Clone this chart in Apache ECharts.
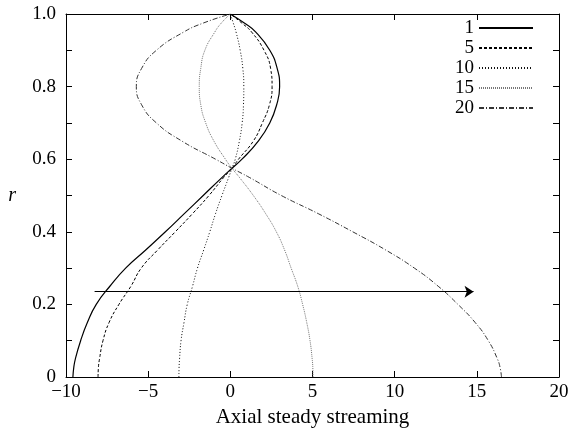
<!DOCTYPE html>
<html>
<head>
<meta charset="utf-8">
<script src="https://cdn.jsdelivr.net/npm/echarts@6/dist/echarts.min.js"></script>
<style>
  html, body { margin: 0; padding: 0; background: #fff; }
  #streaming { width: 569px; height: 434px; }
</style>
</head>
<body>
<div id="streaming"></div>
<script>
// radial positions shared by all curves
const rGrid = [0, 0.025, 0.05, 0.1, 0.15, 0.2, 0.25, 0.3, 0.35, 0.4, 0.45, 0.5, 0.55, 0.575,
  0.6, 0.65, 0.7, 0.75, 0.8, 0.85, 0.9, 0.95, 0.975, 1.0];

// axial steady streaming, one array per curve
const names = ['1', '5', '10', '15', '20'];
const x1 = [-9.58, -9.53, -9.43, -9.11, -8.7, -8.16, -7.33, -6.37, -5.15, -3.95, -2.8, -1.65, -0.5, 0.1,
  0.71, 1.7, 2.4, 2.82, 3.0, 2.85, 2.4, 1.55, 0.85, 0];
const x5 = [-8.05, -8.03, -7.96, -7.75, -7.38, -6.78, -6.05, -5.42, -4.42, -3.35, -2.3, -1.3, -0.4, 0.1,
  0.5, 1.4, 1.95, 2.38, 2.54, 2.45, 2.05, 1.3, 0.7, 0];
const x10 = [-3.13, -3.12, -3.09, -3.0, -2.82, -2.62, -2.3, -2.0, -1.62, -1.25, -0.9, -0.51, -0.1, 0.1,
  0.3, 0.55, 0.72, 0.8, 0.82, 0.76, 0.6, 0.35, 0.18, 0];
const x15 = [5.03, 5.02, 4.98, 4.85, 4.65, 4.4, 4.1, 3.7, 3.3, 2.8, 2.15, 1.4, 0.55, 0.1,
  -0.3, -1.0, -1.5, -1.8, -1.89, -1.8, -1.55, -0.95, -0.55, 0];
const x20 = [16.5, 16.42, 16.25, 15.7, 14.9, 13.85, 12.65, 11.2, 9.45, 7.45, 5.35, 3.1, 1.15, 0.1,
  -0.9, -2.95, -4.5, -5.4, -5.72, -5.4, -4.5, -2.85, -1.65, 0];

// arrow across the plot
const arrowX = [-8.26, 14.8];
const arrowR = 0.235;

const xTicks = { min: -10, max: 20, interval: 5 };
const yTicks = { min: 0, max: 1, interval: 0.2 };

const font = 'Liberation Serif';
const lineStyles = [
  { color: '#000', width: 1.2, type: 'solid' },
  { color: '#000', width: 1, type: [3, 2] },
  { color: '#111', width: 1, type: [1, 2] },
  { color: '#777', width: 1, type: [1, 1] },
  { color: '#333', width: 1, type: [5, 2, 1, 2] }
];
const curves = [x1, x5, x10, x15, x20];

function pairs (xs) {
  return xs.map((x, i) => [x, rGrid[i]]);
}

const series = curves.map((xs, i) => ({
  name: names[i],
  type: 'line',
  data: pairs(xs),
  smooth: 0.5,
  symbol: 'none',
  lineStyle: lineStyles[i],
  itemStyle: { color: lineStyles[i].color }
}));

series.push({
  name: 'arrow',
  type: 'line',
  data: [],
  markLine: {
    silent: true,
    symbol: ['none', 'arrow'],
    symbolSize: 9,
    label: { show: false },
    lineStyle: { color: '#000', width: 1, type: 'solid' },
    data: [[{ coord: [arrowX[0], arrowR] }, { coord: [arrowX[1], arrowR] }]]
  }
});

const axisLine = { show: true, onZero: false, lineStyle: { color: '#000', width: 1 } };
const tick = { show: true, inside: true, length: 6, lineStyle: { color: '#000' } };

const options = {
  animation: false,
  grid: { left: 66, right: 10, top: 14, bottom: 57, outerBoundsMode: 'none' },
  legend: {
    data: names,
    orient: 'vertical',
    align: 'right',
    right: 35,
    top: 18,
    padding: 0,
    itemWidth: 54,
    itemHeight: 10,
    itemGap: 0,
    itemStyle: { opacity: 0 },
    textStyle: { fontFamily: font, fontSize: 19, lineHeight: 20, color: '#000' }
  },
  xAxis: [
    {
      type: 'value', position: 'bottom', ...xTicks,
      axisLine: axisLine, axisTick: tick, splitLine: { show: false },
      axisLabel: {
        fontFamily: font, fontSize: 19, color: '#000', margin: 6,
        showMinLabel: true, showMaxLabel: true, hideOverlap: false,
        formatter: v => (v < 0 ? '\u2212' + Math.abs(v) : String(v))
      },
      name: 'Axial steady streaming',
      nameLocation: 'middle',
      nameGap: 22,
      nameTextStyle: { fontFamily: font, fontSize: 21, color: '#000' }
    },
    {
      type: 'value', position: 'top', ...xTicks,
      axisLine: axisLine, axisTick: tick, splitLine: { show: false },
      axisLabel: { show: false }
    }
  ],
  yAxis: [
    {
      type: 'value', position: 'left', ...yTicks,
      axisLine: axisLine, axisTick: tick,
      minorTick: { show: true, splitNumber: 2, length: 6, lineStyle: { color: '#000' } },
      splitLine: { show: false },
      axisLabel: {
        fontFamily: font, fontSize: 19, color: '#000', margin: 10,
        showMinLabel: true, showMaxLabel: true, hideOverlap: false,
        formatter: v => (v === 0 ? '0' : v.toFixed(1))
      },
      name: 'r',
      nameLocation: 'middle',
      nameRotate: 0,
      nameGap: 50,
      nameTextStyle: { fontFamily: font, fontSize: 20, fontStyle: 'italic', color: '#000' }
    },
    {
      type: 'value', position: 'right', ...yTicks,
      axisLine: axisLine, axisTick: tick,
      minorTick: { show: true, splitNumber: 2, length: 6, lineStyle: { color: '#000' } },
      splitLine: { show: false },
      axisLabel: { show: false }
    }
  ],
  series: series
};

const chart = echarts.init(document.getElementById('streaming'), null, { renderer: 'canvas' });
chart.setOption(options);
</script>
</body>
</html>
